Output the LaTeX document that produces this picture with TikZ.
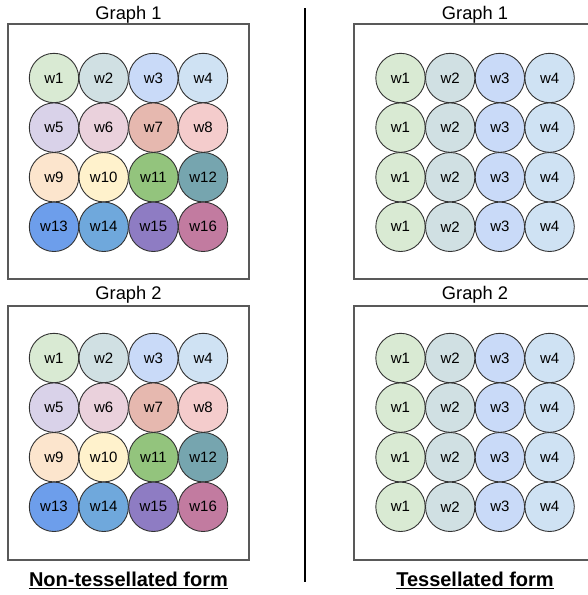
\documentclass[tikz,border=0pt]{standalone}
\usepackage{fontspec}
\setmainfont{Liberation Sans}
\definecolor{cA}{HTML}{D9EAD3}
\definecolor{cB}{HTML}{D0E0E3}
\definecolor{cC}{HTML}{C9DAF8}
\definecolor{cD}{HTML}{CFE2F3}
\definecolor{cE}{HTML}{D9D2E9}
\definecolor{cF}{HTML}{EAD1DC}
\definecolor{cG}{HTML}{E6B8AF}
\definecolor{cH}{HTML}{F4CCCC}
\definecolor{cI}{HTML}{FCE5CD}
\definecolor{cJ}{HTML}{FFF2CC}
\definecolor{cK}{HTML}{93C47D}
\definecolor{cL}{HTML}{76A5AF}
\definecolor{cM}{HTML}{6D9EEB}
\definecolor{cN}{HTML}{6FA8DC}
\definecolor{cO}{HTML}{8E7CC3}
\definecolor{cP}{HTML}{C27BA0}
\definecolor{edge}{HTML}{333333}
\definecolor{frame}{HTML}{595959}
\tikzset{
  weight/.style={circle,draw=edge,line width=0.9pt,minimum size=49.4pt,inner sep=0pt,
    font=\fontsize{15}{18}\selectfont},
  panel/.style={draw=frame,line width=1.3pt,minimum width=241pt,inner sep=0pt},
  title/.style={anchor=base,inner sep=0pt,font=\fontsize{18.3}{22}\selectfont},
  caption/.style={anchor=base,inner sep=0pt,font=\fontsize{20}{24}\selectfont\bfseries},
}
\begin{document}
\begin{tikzpicture}[x=1pt,y=-1pt]
\useasboundingbox (0,0) rectangle (588,595);
\fill[white] (0,0) rectangle (588,595);

% panels
\node[panel,minimum height=255pt] (p1) at (128.5,151.5) {};
\node[panel,minimum height=254pt] (p2) at (128.5,433) {};
\node[panel,minimum height=255pt] (p3) at (474.5,151.5) {};
\node[panel,minimum height=254pt] (p4) at (474.5,433) {};

% titles
\node[title] (t1) at (128.5,19.5) {Graph 1};
\node[title] (t2) at (128.5,299.3) {Graph 2};
\node[title] (t3) at (475,19.5) {Graph 1};
\node[title] (t4) at (475,299.3) {Graph 2};

% separate colour per weight (non-tessellated)
\foreach \oy/\g in {78/a,358/b}{
  \foreach \c [count=\k from 0] in {cA,cB,cC,cD,cE,cF,cG,cH,cI,cJ,cK,cL,cM,cN,cO,cP}{
    \pgfmathtruncatemacro{\col}{mod(\k,4)}
    \pgfmathtruncatemacro{\row}{div(\k,4)}
    \pgfmathtruncatemacro{\num}{\k+1}
    \pgfmathsetmacro{\px}{54+49.7*\col}
    \pgfmathsetmacro{\py}{\oy+49.6*\row}
    \node[weight,fill=\c] (n\g\num) at (\px,\py) {w\num};
  }
}

% shared weights repeated down each column (tessellated)
\foreach \oy/\g in {78/c,358/d}{
  \foreach \row in {0,...,3}{
    \foreach \c [count=\k from 1] in {cA,cB,cC,cD}{
      \pgfmathsetmacro{\px}{400.5+49.7*\k-49.7}
      \pgfmathsetmacro{\py}{\oy+49.6*\row}
      \node[weight,fill=\c] (m\g\row\k) at (\px,\py) {w\k};
    }
  }
}

% divider
\coordinate (d1) at (305,8);
\coordinate (d2) at (305,582);
\draw[line width=2pt] (d1) -- (d2);

% captions, underlined
\node[caption] (c1) at (128.5,586) {Non-tessellated form};
\node[caption] (c2) at (475,586) {Tessellated form};
\draw[line width=1.7pt] ([yshift=-2.6pt]c1.base west) -- ([yshift=-2.6pt]c1.base east);
\draw[line width=1.7pt] ([yshift=-2.6pt]c2.base west) -- ([yshift=-2.6pt]c2.base east);
\end{tikzpicture}
\end{document}
